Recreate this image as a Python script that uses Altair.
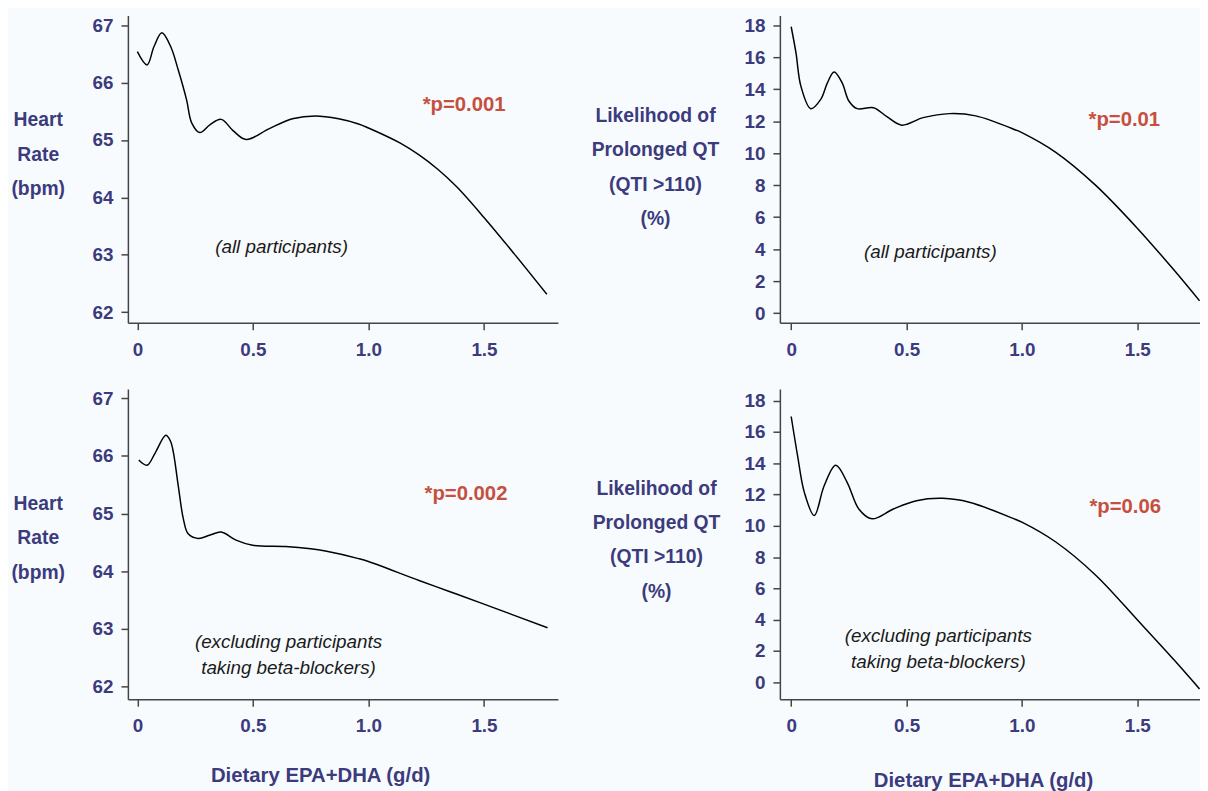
import altair as alt
import pandas as pd

# ---------------- data ----------------
# Top-left: heart rate, all participants
hr_all_x = [0.0, 0.042, 0.072, 0.106, 0.144, 0.177, 0.213, 0.235, 0.27, 0.315, 0.363,
            0.415, 0.471, 0.571, 0.671, 0.771, 0.871, 0.957, 1.0, 1.136, 1.219, 1.30,
            1.383, 1.5, 1.63, 1.772]
hr_all_y = [66.54, 66.31, 66.63, 66.87, 66.63, 66.22, 65.70, 65.30, 65.13, 65.27, 65.36,
            65.16, 65.01, 65.20, 65.37, 65.42, 65.37, 65.28, 65.21, 64.95, 64.74, 64.49,
            64.18, 63.65, 63.02, 62.31]

# Top-right: likelihood of prolonged QT, all participants
qt_all_x = [0.0, 0.021, 0.042, 0.085, 0.128, 0.157, 0.186, 0.221, 0.25, 0.286, 0.357,
            0.415, 0.479, 0.572, 0.687, 0.80, 0.973, 1.0, 1.147, 1.319, 1.5, 1.663, 1.77]
qt_all_y = [17.9, 16.25, 14.19, 12.78, 13.36, 14.39, 15.07, 14.39, 13.26, 12.78, 12.84,
            12.28, 11.75, 12.22, 12.47, 12.33, 11.45, 11.28, 10.05, 8.0, 5.31, 2.63, 0.77]

# Bottom-left: heart rate, excluding beta-blocker users
hr_ex_x = [0.006, 0.042, 0.078, 0.123, 0.143, 0.156, 0.177, 0.199, 0.22, 0.263, 0.315,
           0.363, 0.427, 0.499, 0.642, 0.75, 0.814, 0.957, 1.0, 1.219, 1.35, 1.5, 1.775]
hr_ex_y = [65.93, 65.84, 66.06, 66.36, 66.26, 66.06, 65.48, 64.91, 64.65, 64.57, 64.63,
           64.68, 64.54, 64.45, 64.43, 64.39, 64.35, 64.22, 64.17, 63.84, 63.65, 63.43, 63.02]

# Bottom-right: likelihood of prolonged QT, excluding beta-blocker users
qt_ex_x = [0.0, 0.028, 0.057, 0.1, 0.143, 0.193, 0.243, 0.293, 0.35, 0.443, 0.543,
           0.658, 0.772, 0.973, 1.0, 1.147, 1.32, 1.5, 1.663, 1.77]
qt_ex_y = [16.99, 14.46, 12.14, 10.66, 12.56, 13.87, 12.77, 11.08, 10.45, 11.08, 11.61,
           11.76, 11.51, 10.41, 10.24, 8.97, 6.85, 4.0, 1.38, -0.42]

x_ticks = [0, 0.5, 1.0, 1.5]
hr_ticks = [62, 63, 64, 65, 66, 67]
qt_ticks = [0, 2, 4, 6, 8, 10, 12, 14, 16, 18]

hr_title = ["Heart", "Rate", "(bpm)"]
qt_title = ["Likelihood of", "Prolonged QT", "(QTI >110)", "(%)"]
x_title = "Dietary EPA+DHA (g/d)"

p_labels = ["*p=0.001", "*p=0.01", "*p=0.002", "*p=0.06"]
p_x = [1.414, 1.444, 1.422, 1.448]
p_y = [65.61, 12.04, 65.34, 11.21]

notes = ["(all participants)", "(all participants)",
         "(excluding participants\ntaking beta-blockers)",
         "(excluding participants\ntaking beta-blockers)"]
note_x = [0.624, 0.603, 0.654, 0.638]
note_y = [63.14, 3.81, 62.78, 2.99]

# ---------------- styling ----------------
FONT = "Liberation Sans"
NAVY = "#3b3b7d"
RED = "#c5503f"
AXIS_COL = "#444444"


def panel(xs, ys, xdom, ydom, yticks, w, h, ytitle, ytx, yty, ylh,
          k, xtitle=None, xtx=0, xty=0):
    df = pd.DataFrame({"x": xs, "y": ys})
    xaxis_kw = dict(values=x_ticks,
                    labelExpr="datum.value == 0 ? '0' : format(datum.value, '.1f')",
                    grid=False, tickSize=7, tickWidth=1.5, tickColor=AXIS_COL,
                    domainColor=AXIS_COL, domainWidth=1.5,
                    labelFont=FONT, labelFontSize=19, labelFontWeight="bold",
                    labelColor=NAVY, labelPadding=11, labelFlush=False,
                    labelOverlap=False)
    if xtitle:
        xaxis_kw.update(title=xtitle, titleFont=FONT, titleFontSize=20.5,
                        titleFontWeight="bold", titleColor=NAVY,
                        titleX=xtx, titleY=xty, titleAlign="center",
                        titleBaseline="middle", titleAnchor="start")
    else:
        xaxis_kw.update(title=None)
    xaxis = alt.Axis(**xaxis_kw)
    yaxis = alt.Axis(values=yticks, format="d", grid=False, tickSize=7,
                     tickWidth=1.5, tickColor=AXIS_COL, domainColor=AXIS_COL,
                     domainWidth=1.5,
                     labelFont=FONT, labelFontSize=19, labelFontWeight="bold",
                     labelColor=NAVY, labelPadding=8, labelFlush=False,
                     labelOverlap=False,
                     title=ytitle, titleFont=FONT, titleFontSize=19.5,
                     titleFontWeight="bold", titleColor=NAVY, titleAngle=0,
                     titleAlign="center", titleBaseline="middle",
                     titleX=ytx, titleY=yty, titleLineHeight=ylh,
                     titleAnchor="start")
    xs_ = alt.Scale(domain=xdom, nice=False, zero=False)
    ys_ = alt.Scale(domain=ydom, nice=False, zero=False)

    enc_x = alt.X("x:Q", scale=xs_, axis=xaxis)
    enc_y = alt.Y("y:Q", scale=ys_, axis=yaxis)

    line = alt.Chart(df).mark_line(color="black", strokeWidth=1.5,
                                   interpolate="catmull-rom", clip=True).encode(
        x=enc_x, y=enc_y)
    pdf = pd.DataFrame({"x": [p_x[k]], "y": [p_y[k]], "t": [p_labels[k]]})
    ptext = alt.Chart(pdf).mark_text(font=FONT, fontSize=20.5, fontWeight="bold",
                                     color=RED, align="center",
                                     baseline="middle").encode(
        x=enc_x, y=enc_y, text="t:N")
    ndf = pd.DataFrame({"x": [note_x[k]], "y": [note_y[k]], "t": [notes[k]]})
    ntext = alt.Chart(ndf).mark_text(font=FONT, fontSize=19, fontStyle="italic",
                                     color="#1a1a1a", align="center",
                                     baseline="middle", lineBreak="\n",
                                     lineHeight=26.5).encode(
        x=enc_x, y=enc_y, text="t:N")
    return alt.layer(line, ptext, ntext).properties(width=w, height=h)


XL = [-0.041, 1.82]
XR = [-0.049, 1.772]

tl = panel(hr_all_x, hr_all_y, XL, [61.815, 67.17], hr_ticks, 434, 310,
           hr_title, -91, 105, 35, 0)
tr = panel(qt_all_x, qt_all_y, XR, [-0.60, 18.60], qt_ticks, 424, 310,
           qt_title, -126, 101, 34.7, 1)
bl = panel(hr_ex_x, hr_ex_y, XL, [61.78, 67.16], hr_ticks, 434, 313,
           hr_title, -91, 115, 35, 2, x_title, 194, 77)
br = panel(qt_ex_x, qt_ex_y, XR, [-1.08, 18.74], qt_ticks, 424, 313,
           qt_title, -125, 100, 34.7, 3, x_title, 205, 82)

chart = alt.concat(tl, tr, bl, br, columns=2,
                   spacing={"row": 67, "column": 224},
                   bounds="flush").properties(
    padding={"left": 2, "top": 4, "right": 0, "bottom": 0},
    background="#f8fbfd",
).configure_view(strokeWidth=0)

chart.save("out.html", embed_options={"renderer": "svg", "actions": False})
